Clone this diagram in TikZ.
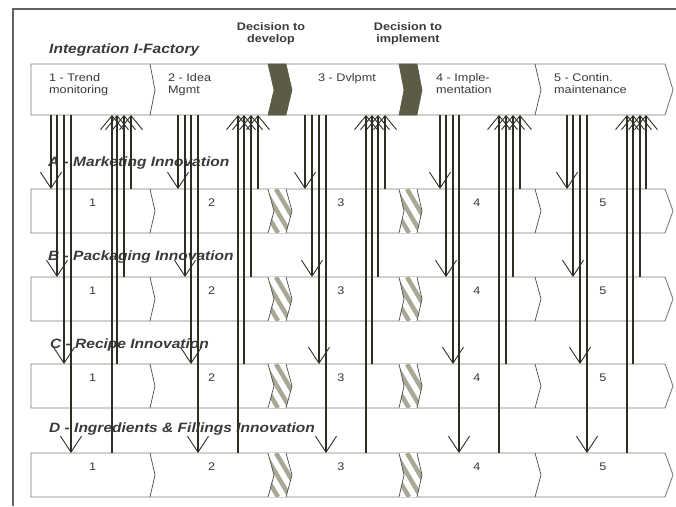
\documentclass[tikz,border=0pt]{standalone}
\usepackage{fontspec}
\setmainfont[FakeStretch=1.15]{Liberation Sans}
\usetikzlibrary{arrows.meta}
\definecolor{lineclr}{HTML}{2E2E24}
\definecolor{boxclr}{HTML}{7C7C74}
\definecolor{gateclr}{HTML}{5C5B46}
\definecolor{hatchclr}{HTML}{A9A897}
\definecolor{txtclr}{HTML}{3A3A3A}
\begin{document}
\begin{tikzpicture}[x=1pt,y=-1pt,
  phase/.style={draw=boxclr,fill=white,line width=0.9pt},
  sep/.style={draw=lineclr!85,line width=0.7pt},
  gate/.style={fill=gateclr,draw=gateclr,line width=0.6pt},
  dnarrow/.style={draw=lineclr,line width=1.1pt,-{Straight Barb[length=16pt,width=21pt,line width=0.9pt]}},
  uparrow/.style={draw=lineclr,line width=1.1pt,-{Straight Barb[length=14pt,width=23pt,line width=0.9pt]}},
  lbl/.style={font=\fontsize{13.5}{15}\selectfont\bfseries\itshape,text=txtclr,anchor=west,inner sep=0pt},
  txt/.style={font=\fontsize{11}{12.5}\selectfont,text=txtclr,align=left,anchor=north west,inner sep=0pt},
  gatetxt/.style={font=\fontsize{11}{12}\selectfont\bfseries,text=txtclr,align=center,inner sep=0pt},
  num/.style={font=\fontsize{11}{12}\selectfont,text=txtclr,inner sep=0pt}]
\useasboundingbox (0,0) rectangle (676,506);
% frame:
\draw[boxclr!80!black,line width=1.2pt] (676,9) -- (13,9) -- (13,506);
% top band:
\draw[phase] (31,64) -- (665,64) -- (673,90) -- (665,115) -- (31,115) -- cycle;
\coordinate (bandS) at (0,115);
\draw[sep] (150,64) -- (155,90) -- (150,115);
\draw[sep] (535,64) -- (541,90) -- (535,115);
\draw[gate] (268,64) -- (286,64) -- (292,90) -- (286,115) -- (268,115) -- (274,90) -- cycle;
\draw[gate] (399,64) -- (417,64) -- (422,90) -- (417,115) -- (399,115) -- (404,90) -- cycle;
\node[txt] (p1) at (49,73) {1 - Trend\\monitoring};
\node[txt] (p2) at (168,73) {2 - Idea\\Mgmt};
\node[txt] (p3) at (318,73) {3 - Dvlpmt};
\node[txt] (p4) at (436,73) {4 - Imple-\\mentation};
\node[txt] (p5) at (554,73) {5 - Contin.\\maintenance};
\node[lbl] (iface) at (49,50) {Integration I-Factory};
\node[gatetxt] (dev) at (271,34) {Decision to\\develop};
\node[gatetxt] (impl) at (408,34) {Decision to\\implement};
% innovation rows:
\foreach \r/\t in {A/189,B/277,C/364,D/453}{
  \draw[phase] (31,\t) -- (665,\t) -- (673,\t+22) -- (665,\t+44) -- (31,\t+44) -- cycle;
  \coordinate (top\r) at (0,\t);
  \draw[sep] (150,\t) -- (155,\t+22) -- (150,\t+44);
  \draw[sep] (535,\t) -- (541,\t+22) -- (535,\t+44);
  \foreach \a/\b in {268/6,399/5}{
    \begin{scope}
      \clip (\a,\t) -- (\a+18,\t) -- (\a+18+\b,\t+22) -- (\a+18,\t+44) -- (\a,\t+44) -- (\a+\b,\t+22) -- cycle;
      \fill[white] (\a-5,\t) rectangle (\a+30,\t+44);
      \foreach \s in {-40,-28,...,50}
        \draw[hatchclr,line width=4.5pt] (\a+\s,\t) -- ++(26,44);
    \end{scope}
    \draw[sep] (\a,\t) -- (\a+\b,\t+22) -- (\a,\t+44);
    \draw[sep] (\a+18,\t) -- (\a+18+\b,\t+22) -- (\a+18,\t+44);
  }
  \foreach \x/\n in {92.7/1,211.7/2,341/3,477/4,603/5}
    \node[num] at (\x,\t+14) {\n};
}
\node[lbl] (rA) at (48,163) {A - Marketing Innovation};
\node[lbl] (rB) at (48,257) {B - Packaging Innovation};
\node[lbl] (rC) at (50,345) {C - Recipe Innovation};
\node[lbl] (rD) at (49,429) {D - Ingredients \& Fillings Innovation};
% down arrows, band to rows:
\foreach \x/\r in {51/A,57/B,64/C,71/D,178/A,185/B,191/C,198/D,305/A,312/B,319/C,326/D,
                   440/A,446/B,453/C,459/D,567/A,573/B,580/C,587/D}
  \draw[dnarrow] (\x,0 |- bandS) -- (\x,0 |- top\r);
% up arrows, rows to band:
\foreach \x/\r in {131/A,124/B,117/C,112/D,258/A,251/B,244/C,238/D,385/A,378/B,372/C,366/D,
                   520/A,513/B,506/C,499/D,646/A,640/B,633/C,627/D}
  \draw[uparrow] (\x,0 |- top\r) -- (\x,0 |- bandS);
\end{tikzpicture}
\end{document}
